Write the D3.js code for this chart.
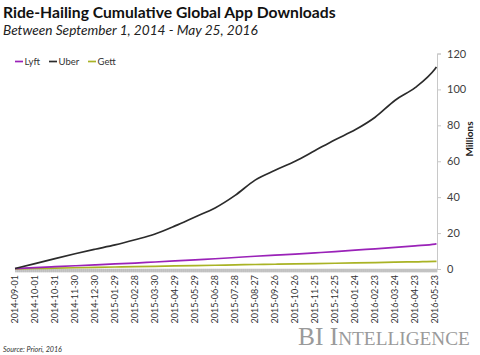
<!DOCTYPE html>
<html>
<head>
<meta charset="utf-8">
<script src="https://d3js.org/d3.v7.min.js"></script>
<style>
html,body{margin:0;padding:0;background:#fff;}
svg{display:block;}
</style>
</head>
<body>
<svg id="chart" width="480" height="355"></svg>
<script>
// ---- data ----
const sampleDates = ["2014-09-01","2014-10-01","2014-10-31","2014-11-30","2014-12-30","2015-01-29","2015-02-28","2015-03-30","2015-04-29","2015-05-29","2015-06-28","2015-07-28","2015-08-27","2015-09-26","2015-10-26","2015-11-25","2015-12-25","2016-01-24","2016-02-23","2016-03-24","2016-04-23","2016-05-23","2016-05-25"];
const uber = [0.3,3,5.8,8.5,11,13.4,16.3,19.5,24,29,34,41,49.5,55,60,66,72,77.5,84.5,94,101,111.5,112.5];
const lyft = [0.2,0.8,1.3,1.8,2.3,2.8,3.3,3.9,4.5,5.1,5.7,6.4,7.1,7.7,8.3,9.0,9.7,10.5,11.2,12.0,12.9,13.9,14.0];
const gett = [0.1,0.3,0.5,0.7,0.9,1.1,1.3,1.5,1.7,1.9,2.1,2.3,2.5,2.65,2.8,3.0,3.2,3.4,3.6,3.8,4.0,4.3,4.3];
const xTickLabels = ["2014-09-01","2014-10-01","2014-10-31","2014-11-30","2014-12-30","2015-01-29","2015-02-28","2015-03-30","2015-04-29","2015-05-29","2015-06-28","2015-07-28","2015-08-27","2015-09-26","2015-10-26","2015-11-25","2015-12-25","2016-01-24","2016-02-23","2016-03-24","2016-04-23","2016-05-23"];
const yTicks = [0,20,40,60,80,100,120];
const seriesNames = ["Lyft","Uber","Gett"];
const seriesColors = {Lyft:"#9a22b8", Uber:"#2b2b2b", Gett:"#a9b325"};

const parse = d3.utcParse("%Y-%m-%d");
const svg = d3.select("#chart");
const fontSans = "Lato, 'Open Sans', sans-serif";

const x = d3.scaleUtc().domain([parse("2014-09-01"), parse("2016-05-25")]).range([15, 436.5]);
const y = d3.scaleLinear().domain([0,120]).range([269, 53.5]);

// daily tick band
const days = d3.utcDay.range(parse("2014-09-01"), d3.utcDay.offset(parse("2016-05-25"),1));
const xAxis = d3.axisBottom(x).tickValues(days).tickSize(3.5).tickFormat("");
const gx = svg.append("g").attr("transform","translate(0,268.8)").call(xAxis);
gx.select(".domain").remove();
gx.selectAll(".tick line").attr("stroke","#a8a8a8").attr("stroke-width",0.6);

// x labels
svg.append("g").selectAll("text").data(xTickLabels).join("text")
  .attr("transform", d => `translate(${x(parse(d))},275) rotate(-90)`)
  .attr("text-anchor","end").attr("dy","0.35em")
  .attr("font-family", fontSans).attr("font-size", 9).attr("fill","#333")
  .text(d => d);

// right y axis
const yAxis = d3.axisRight(y).tickValues(yTicks).tickSize(4).tickPadding(6);
const gy = svg.append("g").attr("transform","translate(437,0)").call(yAxis);
gy.select(".domain").attr("stroke","#c8c8c8");
gy.selectAll(".tick line").attr("stroke","#c8c8c8");
gy.selectAll(".tick text").attr("font-family", fontSans).attr("font-size", 11).attr("fill","#404040");

svg.append("text").attr("transform","translate(473,139) rotate(-90)")
  .attr("text-anchor","middle").attr("font-family", fontSans).attr("font-weight","bold")
  .attr("font-size",10).attr("fill","#222").text("Millions");

// lines
const seriesData = {Uber: uber, Lyft: lyft, Gett: gett};
const line = d3.line().x(d => x(d[0])).y(d => y(d[1])).curve(d3.curveMonotoneX);
["Gett","Lyft","Uber"].forEach(name => {
  const pts = sampleDates.map((d,i) => [parse(d), seriesData[name][i]]);
  svg.append("path").datum(pts).attr("d", line)
    .attr("fill","none").attr("stroke", seriesColors[name]).attr("stroke-width",1.7)
    .attr("stroke-linejoin","round");
});

// legend
const legendX = [15, 49, 88];
const lg = svg.append("g");
seriesNames.forEach((n,i) => {
  lg.append("line").attr("x1",legendX[i]).attr("x2",legendX[i]+8).attr("y1",61.5).attr("y2",61.5)
    .attr("stroke",seriesColors[n]).attr("stroke-width",1.7);
  lg.append("text").attr("x",legendX[i]+9.5).attr("y",61.5).attr("dy","0.35em")
    .attr("font-family",fontSans).attr("font-size",9.5).attr("fill","#333").text(n);
});

function fitWidth(sel, target){
  const fs = +sel.attr("font-size");
  const w = sel.node().getComputedTextLength();
  if (w > 0) sel.attr("font-size", fs*target/w);
}

// titles
const t1 = svg.append("text").attr("x",3).attr("y",17.5).attr("font-family",fontSans)
  .attr("font-weight","bold").attr("font-size",16).attr("fill","#111")
  .text("Ride-Hailing Cumulative Global App Downloads");
fitWidth(t1, 333);
const t2 = svg.append("text").attr("x",3).attr("y",35).attr("font-family",fontSans)
  .attr("font-style","italic").attr("font-size",13).attr("fill","#222")
  .text("Between September 1, 2014 - May 25, 2016");
fitWidth(t2, 255);

// source
const src = svg.append("text").attr("x",3).attr("y",352).attr("font-family",fontSans)
  .attr("font-style","italic").attr("font-size",7.5).attr("fill","#333")
  .text("Source: Priori, 2016");
fitWidth(src, 59);

// logo
const logo = svg.append("text").attr("x",298).attr("y",345)
  .attr("font-family","'Liberation Serif','DejaVu Serif',serif").attr("fill","#9a9a9a").attr("font-size",25);
logo.append("tspan").attr("font-size",25).text("BI I");
logo.append("tspan").attr("font-size",19).text("NTELLIGENCE");
const lw = logo.node().getComputedTextLength();
const sc = 172/lw;
logo.selectAll("tspan").each(function(){ const t=d3.select(this); t.attr("font-size", +t.attr("font-size")*sc); });
</script>
</body>
</html>
